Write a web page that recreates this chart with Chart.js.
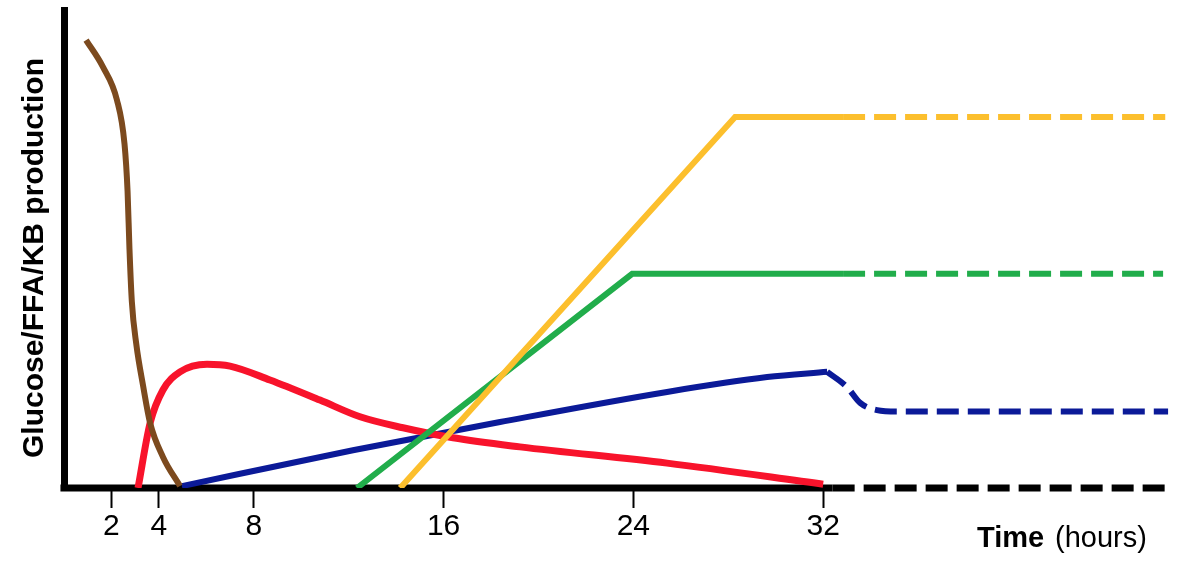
<!DOCTYPE html>
<html>
<head>
<meta charset="utf-8">
<title>Glucose/FFA/KB production</title>
<script src="https://cdn.jsdelivr.net/npm/chart.js@4"></script>
<style>
  html, body { margin: 0; padding: 0; background: #fff; }
  #wrap { width: 1181px; height: 563px; position: relative; }
</style>
</head>
<body>
<div id="wrap"><canvas id="productionChart"></canvas></div>
<script>
// Tick labels on the time axis (hours)
const tickHours = [2, 4, 8, 16, 24, 32];

// Brown curve
const brownHours = [0.93, 1.64, 2.23, 2.55, 2.68, 2.76, 2.86, 3.05, 3.33, 3.63, 4.17, 4.89];
const brownValues = [93.7, 88.1, 81.2, 72.0, 62.0, 50.0, 39.0, 30.0, 21.5, 13.6, 6.5, 0.4];

// Red curve
const redHours = [3.12, 3.63, 4.17, 4.89, 6.03, 7.0, 8.68, 10.79, 12.48, 14.29, 16.4, 19.22, 25.42, 32.0];
const redValues = [0, 13.6, 20.5, 24.3, 25.9, 25.5, 22.6, 18.4, 14.9, 12.6, 10.5, 8.6, 5.2, 0.8];

// Blue curve (solid up to 32 h, dashed after)
const blueHours = [4.97, 12.18, 18.38, 25.42, 29.64, 32.17];
const blueValues = [0.4, 7.9, 13.8, 20.1, 23.2, 24.3];
const blueLateHours = [32.17, 33.01, 33.56, 34.27, 35.12, 46.54];
const blueLateValues = [24.3, 21.1, 17.8, 16.3, 16.0, 16.0];

// Green curve
const greenHours = [12.35, 23.95, 32.84, 46.33];
const greenValues = [0, 44.8, 44.8, 44.8];

// Yellow curve
const yellowHours = [14.17, 28.29, 32.84, 46.42];
const yellowValues = [0, 77.6, 77.6, 77.6];

// Time axis line (solid, then dashed)
const axisHours = [-0.15, 32.4, 46.7];
const axisValues = [0, 0, 0];

const yTitle = 'Glucose/FFA/KB production';

function toPoints(xs, ys) {
    return xs.map((x, i) => ({ x: x, y: ys[i] }));
}

// dashed once a segment starts at or after this hour
function dashAfter(hour) {
    return ctx => ctx.p0.parsed.x >= hour ? [22, 9] : undefined;
}

const axisTitles = {
    id: 'axisTitles',
    afterDraw(chart) {
        const ctx = chart.ctx;
        ctx.save();
        ctx.fillStyle = '#000';
        ctx.textBaseline = 'alphabetic';

        // y title, rotated
        ctx.save();
        ctx.translate(43, 258);
        ctx.rotate(-Math.PI / 2);
        ctx.textAlign = 'center';
        ctx.font = 'bold 30px "Liberation Sans", Arial, sans-serif';
        ctx.fillText(yTitle, 0, 0);
        ctx.restore();

        // x title: "Time" bold, "(hours)" regular
        ctx.textAlign = 'left';
        ctx.font = 'bold 29px "Liberation Sans", Arial, sans-serif';
        ctx.fillText('Time', 977, 547);
        ctx.font = '29px "Liberation Sans", Arial, sans-serif';
        ctx.fillText('(hours)', 1055, 547);
        ctx.restore();
    }
};

const chartCtx = document.getElementById('productionChart').getContext('2d');
const productionChart = new Chart(chartCtx, {
    type: 'line',
    data: {
        datasets: [
            {
                label: 'Yellow',
                data: toPoints(yellowHours, yellowValues),
                borderColor: '#fcbf2d',
                borderWidth: 6,
                tension: 0,
                segment: { borderDash: dashAfter(32.5) },
                order: 1
            },
            {
                label: 'Green',
                data: toPoints(greenHours, greenValues),
                borderColor: '#21ad4b',
                borderWidth: 6,
                tension: 0,
                segment: { borderDash: dashAfter(32.5) },
                order: 2
            },
            {
                label: 'Brown',
                data: toPoints(brownHours, brownValues),
                borderColor: '#7c4a1e',
                borderWidth: 6,
                cubicInterpolationMode: 'monotone',
                order: 3
            },
            {
                label: 'Red',
                data: toPoints(redHours, redValues),
                borderColor: '#f8132b',
                borderWidth: 7,
                cubicInterpolationMode: 'monotone',
                order: 4
            },
            {
                label: 'Blue',
                data: toPoints(blueHours, blueValues),
                borderColor: '#0b1a98',
                borderWidth: 6,
                cubicInterpolationMode: 'monotone',
                order: 5
            },
            {
                label: 'Blue (after 32 h)',
                data: toPoints(blueLateHours, blueLateValues),
                borderColor: '#0b1a98',
                borderWidth: 6,
                borderDash: [22, 9],
                cubicInterpolationMode: 'monotone',
                order: 5
            },
            {
                label: 'Time axis',
                data: toPoints(axisHours, axisValues),
                borderColor: '#000',
                borderWidth: 7,
                tension: 0,
                segment: { borderDash: dashAfter(32) },
                clip: false,
                order: 10
            }
        ]
    },
    options: {
        responsive: true,
        maintainAspectRatio: false,
        animation: false,
        layout: { padding: { top: 10, right: 2, left: 0, bottom: 0 } },
        plugins: {
            legend: { display: false },
            tooltip: { enabled: false }
        },
        elements: {
            point: { radius: 0 },
            line: { borderCapStyle: 'butt', fill: false }
        },
        scales: {
            x: {
                type: 'linear',
                min: 0,
                max: 47,
                afterFit: scale => { scale.height = 75; },
                afterBuildTicks: scale => { scale.ticks = tickHours.map(v => ({ value: v })); },
                border: { display: false },
                grid: {
                    display: true,
                    drawOnChartArea: false,
                    drawTicks: true,
                    tickLength: 20,
                    tickWidth: 2,
                    tickColor: '#000'
                },
                ticks: {
                    color: '#000',
                    font: { family: '"Liberation Sans", Arial, sans-serif', size: 30 },
                    padding: 1,
                    maxRotation: 0,
                    autoSkip: false
                }
            },
            y: {
                min: 0,
                max: 100,
                afterFit: scale => { scale.width = 64; },
                ticks: { display: false },
                grid: { display: false },
                border: { display: true, width: 7, color: '#000' }
            }
        }
    },
    plugins: [axisTitles]
});
</script>
</body>
</html>
